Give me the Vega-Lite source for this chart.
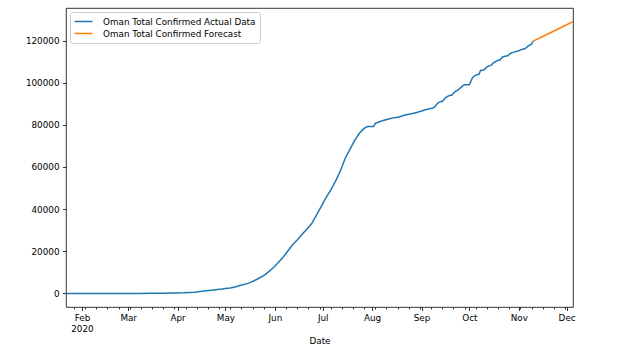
{
  "$schema": "https://vega.github.io/schema/vega-lite/v6.json",
  "autosize": "none",
  "width": 507,
  "height": 299,
  "padding": {"left": 66, "top": 8, "right": 54, "bottom": 44},
  "config": {
    "font": "DejaVu Sans",
    "view": {"stroke": "#000", "strokeWidth": 0.8},
    "axis": {"grid": false, "domain": false, "tickColor": "#000", "tickWidth": 0.8, "labelColor": "#000", "labelFont": "DejaVu Sans", "labelFontSize": 8.8, "titleFont": "DejaVu Sans", "titleFontSize": 8.8, "titleFontWeight": "normal", "titleColor": "#000"},
    "legend": {"labelFont": "DejaVu Sans", "labelFontSize": 8.8, "labelColor": "#000"}
  },
  "encoding": {
    "x": {
      "field": "date", "type": "temporal", "title": "Date",
      "scale": {"type": "utc", "domain": [{"year": 2020, "month": 1, "date": 22, "utc": true}, {"year": 2020, "month": 12, "date": 5, "utc": true}], "nice": false},
      "axis": {
        "values": [
          {"year": 2020, "month": 1, "date": 27, "utc": true},
          {"year": 2020, "month": 2, "date": 1, "utc": true},
          {"year": 2020, "month": 2, "date": 3, "utc": true},
          {"year": 2020, "month": 2, "date": 10, "utc": true},
          {"year": 2020, "month": 2, "date": 17, "utc": true},
          {"year": 2020, "month": 2, "date": 24, "utc": true},
          {"year": 2020, "month": 3, "date": 1, "utc": true},
          {"year": 2020, "month": 3, "date": 2, "utc": true},
          {"year": 2020, "month": 3, "date": 9, "utc": true},
          {"year": 2020, "month": 3, "date": 16, "utc": true},
          {"year": 2020, "month": 3, "date": 23, "utc": true},
          {"year": 2020, "month": 3, "date": 30, "utc": true},
          {"year": 2020, "month": 4, "date": 1, "utc": true},
          {"year": 2020, "month": 4, "date": 6, "utc": true},
          {"year": 2020, "month": 4, "date": 13, "utc": true},
          {"year": 2020, "month": 4, "date": 20, "utc": true},
          {"year": 2020, "month": 4, "date": 27, "utc": true},
          {"year": 2020, "month": 5, "date": 1, "utc": true},
          {"year": 2020, "month": 5, "date": 4, "utc": true},
          {"year": 2020, "month": 5, "date": 11, "utc": true},
          {"year": 2020, "month": 5, "date": 18, "utc": true},
          {"year": 2020, "month": 5, "date": 25, "utc": true},
          {"year": 2020, "month": 6, "date": 1, "utc": true},
          {"year": 2020, "month": 6, "date": 8, "utc": true},
          {"year": 2020, "month": 6, "date": 15, "utc": true},
          {"year": 2020, "month": 6, "date": 22, "utc": true},
          {"year": 2020, "month": 6, "date": 29, "utc": true},
          {"year": 2020, "month": 7, "date": 1, "utc": true},
          {"year": 2020, "month": 7, "date": 6, "utc": true},
          {"year": 2020, "month": 7, "date": 13, "utc": true},
          {"year": 2020, "month": 7, "date": 20, "utc": true},
          {"year": 2020, "month": 7, "date": 27, "utc": true},
          {"year": 2020, "month": 8, "date": 1, "utc": true},
          {"year": 2020, "month": 8, "date": 3, "utc": true},
          {"year": 2020, "month": 8, "date": 10, "utc": true},
          {"year": 2020, "month": 8, "date": 17, "utc": true},
          {"year": 2020, "month": 8, "date": 24, "utc": true},
          {"year": 2020, "month": 8, "date": 31, "utc": true},
          {"year": 2020, "month": 9, "date": 1, "utc": true},
          {"year": 2020, "month": 9, "date": 7, "utc": true},
          {"year": 2020, "month": 9, "date": 14, "utc": true},
          {"year": 2020, "month": 9, "date": 21, "utc": true},
          {"year": 2020, "month": 9, "date": 28, "utc": true},
          {"year": 2020, "month": 10, "date": 1, "utc": true},
          {"year": 2020, "month": 10, "date": 5, "utc": true},
          {"year": 2020, "month": 10, "date": 12, "utc": true},
          {"year": 2020, "month": 10, "date": 19, "utc": true},
          {"year": 2020, "month": 10, "date": 26, "utc": true},
          {"year": 2020, "month": 11, "date": 1, "utc": true},
          {"year": 2020, "month": 11, "date": 2, "utc": true},
          {"year": 2020, "month": 11, "date": 9, "utc": true},
          {"year": 2020, "month": 11, "date": 16, "utc": true},
          {"year": 2020, "month": 11, "date": 23, "utc": true},
          {"year": 2020, "month": 11, "date": 30, "utc": true},
          {"year": 2020, "month": 12, "date": 1, "utc": true}
        ],
        "labelExpr": "utcdate(datum.value) == 1 ? (utcmonth(datum.value) == 1 ? ['Feb', '2020'] : utcFormat(datum.value, '%b')) : ''",
        "tickSize": {"condition": {"test": "utcdate(datum.value) == 1", "value": 3.5}, "value": 2},
        "labelPadding": 3,
        "labelOverlap": false,
        "labelFlush": false,
        "labelLineHeight": 10.5,
        "titlePadding": 4
      }
    },
    "y": {
      "field": "value", "type": "quantitative", "title": null,
      "scale": {"domain": [-6450, 135450], "nice": false, "zero": false},
      "axis": {"values": [0, 20000, 40000, 60000, 80000, 100000, 120000], "format": "d", "tickSize": 3.5, "labelPadding": 3.5}
    }
  },
  "layer": [
    {
      "data": {"values": [
        {"date": "2020-01-22", "value": 0},
        {"date": "2020-02-01", "value": 0},
        {"date": "2020-02-15", "value": 0},
        {"date": "2020-02-23", "value": 0},
        {"date": "2020-02-24", "value": 2},
        {"date": "2020-03-01", "value": 6},
        {"date": "2020-03-08", "value": 16},
        {"date": "2020-03-15", "value": 20},
        {"date": "2020-03-22", "value": 55},
        {"date": "2020-03-29", "value": 152},
        {"date": "2020-04-01", "value": 210},
        {"date": "2020-04-05", "value": 298},
        {"date": "2020-04-08", "value": 419},
        {"date": "2020-04-12", "value": 599},
        {"date": "2020-04-15", "value": 910},
        {"date": "2020-04-19", "value": 1266},
        {"date": "2020-04-22", "value": 1508},
        {"date": "2020-04-26", "value": 1905},
        {"date": "2020-04-29", "value": 2131},
        {"date": "2020-05-01", "value": 2348},
        {"date": "2020-05-04", "value": 2600},
        {"date": "2020-05-07", "value": 3050},
        {"date": "2020-05-10", "value": 3750},
        {"date": "2020-05-13", "value": 4300},
        {"date": "2020-05-16", "value": 5000},
        {"date": "2020-05-19", "value": 6000},
        {"date": "2020-05-22", "value": 7200},
        {"date": "2020-05-25", "value": 8400},
        {"date": "2020-05-28", "value": 10200},
        {"date": "2020-05-31", "value": 12200},
        {"date": "2020-06-03", "value": 14500},
        {"date": "2020-06-06", "value": 17000},
        {"date": "2020-06-09", "value": 20000},
        {"date": "2020-06-12", "value": 23000},
        {"date": "2020-06-15", "value": 25300},
        {"date": "2020-06-18", "value": 28000},
        {"date": "2020-06-21", "value": 30500},
        {"date": "2020-06-24", "value": 33000},
        {"date": "2020-06-27", "value": 37000},
        {"date": "2020-06-30", "value": 41200},
        {"date": "2020-07-03", "value": 45300},
        {"date": "2020-07-06", "value": 49000},
        {"date": "2020-07-09", "value": 53200},
        {"date": "2020-07-12", "value": 58000},
        {"date": "2020-07-15", "value": 63900},
        {"date": "2020-07-18", "value": 68200},
        {"date": "2020-07-21", "value": 72500},
        {"date": "2020-07-24", "value": 76000},
        {"date": "2020-07-27", "value": 78300},
        {"date": "2020-07-29", "value": 79159},
        {"date": "2020-08-02", "value": 79159},
        {"date": "2020-08-03", "value": 80713},
        {"date": "2020-08-06", "value": 81580},
        {"date": "2020-08-09", "value": 82299},
        {"date": "2020-08-12", "value": 82924},
        {"date": "2020-08-15", "value": 83418},
        {"date": "2020-08-18", "value": 83769},
        {"date": "2020-08-21", "value": 84509},
        {"date": "2020-08-24", "value": 85005},
        {"date": "2020-08-27", "value": 85544},
        {"date": "2020-08-30", "value": 86060},
        {"date": "2020-09-03", "value": 87071},
        {"date": "2020-09-06", "value": 87590},
        {"date": "2020-09-08", "value": 88000},
        {"date": "2020-09-09", "value": 88300},
        {"date": "2020-09-11", "value": 90200},
        {"date": "2020-09-13", "value": 91100},
        {"date": "2020-09-14", "value": 91100},
        {"date": "2020-09-16", "value": 92800},
        {"date": "2020-09-17", "value": 93400},
        {"date": "2020-09-19", "value": 94000},
        {"date": "2020-09-20", "value": 94000},
        {"date": "2020-09-22", "value": 95800},
        {"date": "2020-09-24", "value": 96600},
        {"date": "2020-09-27", "value": 98600},
        {"date": "2020-09-28", "value": 99000},
        {"date": "2020-10-01", "value": 99000},
        {"date": "2020-10-03", "value": 102500},
        {"date": "2020-10-05", "value": 103600},
        {"date": "2020-10-07", "value": 104000},
        {"date": "2020-10-08", "value": 105800},
        {"date": "2020-10-10", "value": 106000},
        {"date": "2020-10-12", "value": 107500},
        {"date": "2020-10-15", "value": 108400},
        {"date": "2020-10-16", "value": 109400},
        {"date": "2020-10-19", "value": 110600},
        {"date": "2020-10-20", "value": 110600},
        {"date": "2020-10-22", "value": 112300},
        {"date": "2020-10-25", "value": 112800},
        {"date": "2020-10-27", "value": 114000},
        {"date": "2020-10-29", "value": 114500},
        {"date": "2020-11-01", "value": 115200},
        {"date": "2020-11-03", "value": 115800},
        {"date": "2020-11-05", "value": 116200},
        {"date": "2020-11-07", "value": 117500},
        {"date": "2020-11-09", "value": 118300},
        {"date": "2020-11-10", "value": 119700}
      ]},
      "mark": {"type": "line", "strokeWidth": 1.5},
      "encoding": {
        "color": {
          "datum": "Oman Total Confirmed Actual Data",
          "scale": {"domain": ["Oman Total Confirmed Actual Data", "Oman Total Confirmed Forecast"], "range": ["#1f77b4", "#ff7f0e"]},
          "legend": {
            "title": null, "orient": "top-left", "offset": 4, "padding": 4,
            "strokeColor": "#cccccc", "fillColor": "#ffffff", "cornerRadius": 2,
            "symbolType": "M-2,0H2", "symbolSize": 81, "symbolStrokeWidth": 1.5, "symbolOffset": 4,
            "labelOffset": 14, "labelLimit": 0, "rowPadding": 1
          }
        }
      }
    },
    {
      "data": {"values": [
        {"date": "2020-11-10", "value": 119700},
        {"date": "2020-11-17", "value": 122300},
        {"date": "2020-11-24", "value": 124900},
        {"date": "2020-12-01", "value": 127500},
        {"date": "2020-12-05", "value": 129000}
      ]},
      "mark": {"type": "line", "strokeWidth": 1.5},
      "encoding": {
        "color": {"datum": "Oman Total Confirmed Forecast"}
      }
    }
  ]
}
